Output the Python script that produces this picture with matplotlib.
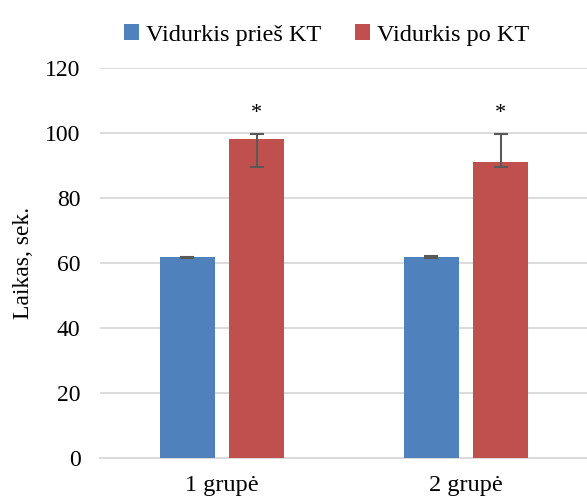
import matplotlib
matplotlib.use("Agg")
import matplotlib.pyplot as plt
import numpy as np

categories = ["1 grupė", "2 grupė"]
series_names = ["Vidurkis prieš KT", "Vidurkis po KT"]
before = [61.7, 61.9]
after = [98.2, 91.0]
before_err_low = [0.3, 0.3]
before_err_high = [0.3, 0.3]
after_err_low = [8.8, 1.6]
after_err_high = [1.6, 8.8]
yticks = [0, 20, 40, 60, 80, 100, 120]

plt.rcParams['font.family'] = ['Liberation Serif', 'DejaVu Serif']

fig = plt.figure(figsize=(5.87, 4.98), dpi=100)
ax = fig.add_axes([100/587, 1-458/498, 488/587, 390/498])

x = np.arange(len(categories))
w = 0.225
off = 0.143
blue = "#4F81BD"
red = "#C0504D"
ecol = "#595959"

ax.bar(x - off, before, w, color=blue, zorder=3, label=series_names[0])
ax.bar(x + off, after, w, color=red, zorder=3, label=series_names[1])
ax.errorbar(x - off, before, yerr=[before_err_low, before_err_high], fmt='none',
            ecolor=ecol, elinewidth=1.5, capsize=5, capthick=1.5, zorder=4)
ax.errorbar(x + off, after, yerr=[after_err_low, after_err_high], fmt='none',
            ecolor=ecol, elinewidth=1.5, capsize=5, capthick=1.5, zorder=4)
for xi, v, eh in zip(x + off, after, after_err_high):
    ax.text(xi, v + eh + 3.2, "*", ha='center', va='bottom', fontsize=16)

ax.set_xlim(-0.5, 1.5)
ax.set_ylim(0, 120)
ax.set_yticks(yticks)
ax.set_xticks(x)
ax.set_xticklabels(categories, fontsize=17.5)
ax.tick_params(axis='y', labelsize=17, length=0, pad=14)
ax.tick_params(axis='x', length=0, pad=12)
ax.yaxis.grid(True, color="#D9D9D9", linewidth=1.3, zorder=0)
ax.set_axisbelow(True)
for s in ['top', 'right', 'left']:
    ax.spines[s].set_visible(False)
ax.spines['bottom'].set_color("#D9D9D9")
ax.spines['bottom'].set_linewidth(1.3)
ax.set_ylabel("Laikas, sek.", fontsize=17, labelpad=8)

leg = fig.legend(loc='upper center', bbox_to_anchor=(0.557, 0.995), ncol=2, frameon=False,
                 fontsize=17.5, handlelength=0.6, handleheight=0.6, columnspacing=1.4,
                 handletextpad=0.3)

fig.savefig("out.png", dpi=100)
